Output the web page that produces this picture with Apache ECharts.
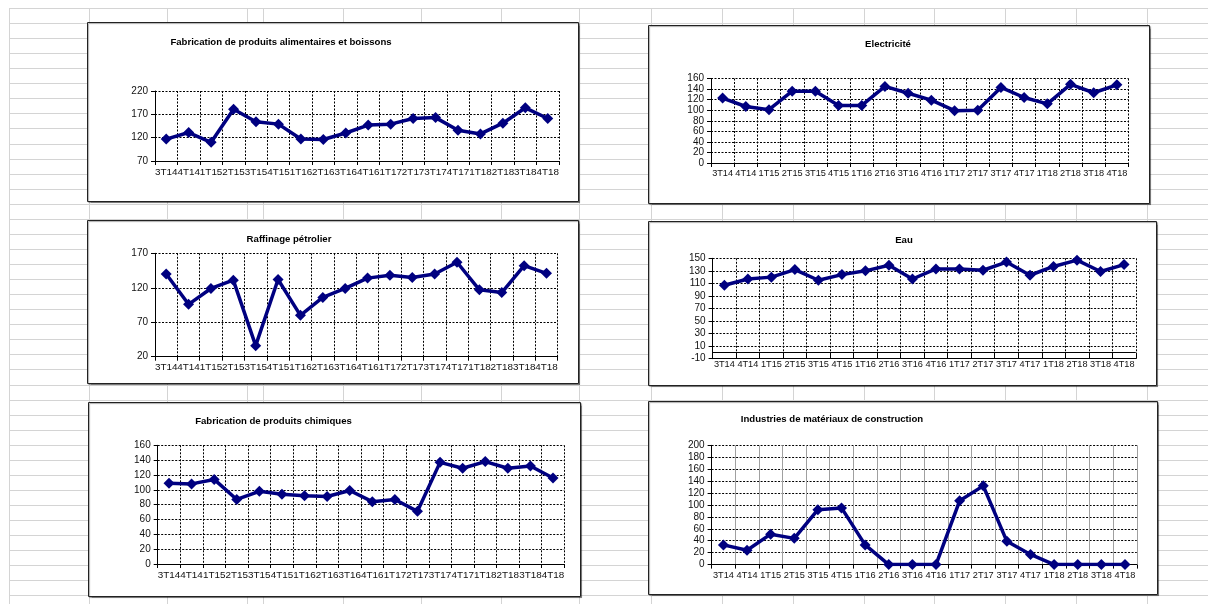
<!DOCTYPE html>
<html><head><meta charset="utf-8">
<script src="https://cdn.jsdelivr.net/npm/echarts@6/dist/echarts.min.js"></script>
<style>
html,body{margin:0;padding:0;background:#fff;width:1208px;height:604px;overflow:hidden;}
#sheet{position:absolute;left:9px;top:8px;width:1199px;height:596px;
 background:repeating-linear-gradient(to bottom,#d4d4d4 0,#d4d4d4 1px,transparent 1px,transparent 15.06px);}
.col{position:absolute;top:8px;width:1px;height:596px;background:#d4d4d4;}
#chart{position:absolute;left:0;top:0;width:1208px;height:604px;}
</style></head><body>
<div id="sheet"></div>
<div id="chart"></div>
<script>
// ---- data ----
const categories = ['3T14','4T14','1T15','2T15','3T15','4T15','1T16','2T16','3T16','4T16','1T17','2T17','3T17','4T17','1T18','2T18','3T18','4T18'];
const titles = ['Fabrication de produits alimentaires et boissons','Electricité','Raffinage pétrolier','Eau','Fabrication de produits chimiques','Industries de matériaux de construction'];
const alimentaires = [117,131,110,181,154,149,117,116,130,147,149,161,163,136,128,151,184,161];
const electricite  = [123,107,101,136,136,109,109,145,132,119,99,100,143,124,112,149,133,148];
const raffinage    = [140,96,119,131,36,132,80,106,119,134,138,135,140,157,117,113,152,141];
const eau          = [107,117,120,132,115,124,130,139,117,133,133,131,144,123,137,147,129,140];
const chimiques    = [109,108,114,87,98,94,92,91,99,84,87,71,137,129,138,129,132,116];
const construction = [33,24,51,44,92,95,33,0,0,0,107,132,39,17,0,0,0,0];
const seriesData = [alimentaires, electricite, raffinage, eau, chimiques, construction];
const axisMin = [70, 0, 20, -10, 0, 0];
const axisMax = [220, 160, 170, 150, 160, 200];
const axisStep = [50, 20, 50, 20, 20, 20];

// ---- layout (styling only) ----
const sheetCols = [9,89,167,247,263,343,421,501,579,651,722,793,864,934,1005,1076,1147];
sheetCols.forEach(x=>{const d=document.createElement('div');d.className='col';d.style.left=x+'px';document.body.insertBefore(d,document.getElementById('chart'));});

const boxes = [[87,22,491,179],[648,25,501,178],[87,220,491,163],[648,221,508,164],[88,402,492,194],[648,401,509,193]];
const grids = [[155,91,404,70],[711,78.5,417.5,84.5],[155,253.3,402.7,103.4],[712.6,258.3,423.2,100.4],[157.7,445.3,406.6,118.7],[711.6,445.3,425.2,119.3]];
const titlePos = [[276,38],[883,40],[284,235],[899,236],[268.5,417],[827,415.6]];
const xLabelSize = [9.9, 9.2, 9.9, 9.2, 9.9, 9.2];

const font = 'Liberation Sans, Arial, sans-serif';
const chart = echarts.init(document.getElementById('chart'));
const option = {
  animation:false,
  title: titles.map((t,i)=>({text:t,left:titlePos[i][0],top:titlePos[i][1]-6,textAlign:'center',
    textStyle:{fontFamily:font,fontSize:9.6,fontWeight:'bold',color:'#000'}})),
  graphic: boxes.map(b=>({type:'rect',z:-10,shape:{x:b[0]+0.5,y:b[1]+0.5,width:b[2],height:b[3]},
    style:{fill:'#fff',stroke:'#222',lineWidth:1,shadowColor:'rgba(0,0,0,0.35)',shadowOffsetX:1,shadowOffsetY:1,shadowBlur:1}})),
  grid: grids.map(g=>({left:g[0],top:g[1],width:g[2],height:g[3],containLabel:false})),
  xAxis: grids.map((g,i)=>({type:'category',gridIndex:i,data:categories,boundaryGap:true,
    axisLine:{show:true,onZero:false,lineStyle:{color:'#000',width:1}},
    axisTick:{show:true,interval:0,inside:i===3,length:i===3?6:4,lineStyle:{color:'#000'}},
    axisLabel:{interval:0,margin:i===3?1:6,fontFamily:font,fontSize:xLabelSize[i],color:'#111'},
    splitLine:{show:true,interval:0,lineStyle:i===5?{color:'#a0a0a0',width:1,type:'solid'}:{color:'#000',width:1,type:[2,1.5]}}
  })),
  yAxis: grids.map((g,i)=>({type:'value',gridIndex:i,min:axisMin[i],max:axisMax[i],interval:axisStep[i],
    axisLine:{show:true,lineStyle:{color:'#000',width:1}},
    axisTick:{show:true,length:4,lineStyle:{color:'#000'}},
    axisLabel:{margin:7,fontFamily:font,fontSize:10,color:'#111'},
    splitLine:{show:true,lineStyle:{color:'#000',width:1,type:[2,1.5]}}
  })),
  series: seriesData.map((d,i)=>{
    const s = {type:'line',xAxisIndex:i,yAxisIndex:i,data:d,
      symbol:'diamond',symbolSize:[11,11],z:3,
      lineStyle:{color:'#000080',width:3.5},itemStyle:{color:'#000080'}};
    if (axisMin[i] < 0) {
      s.markLine = {silent:true,symbol:'none',label:{show:false},z:1,
        lineStyle:{color:'#000',width:1.2,type:'solid'},data:[{yAxis:0}]};
    }
    return s;
  })
};
chart.setOption(option);
</script>
</body></html>
